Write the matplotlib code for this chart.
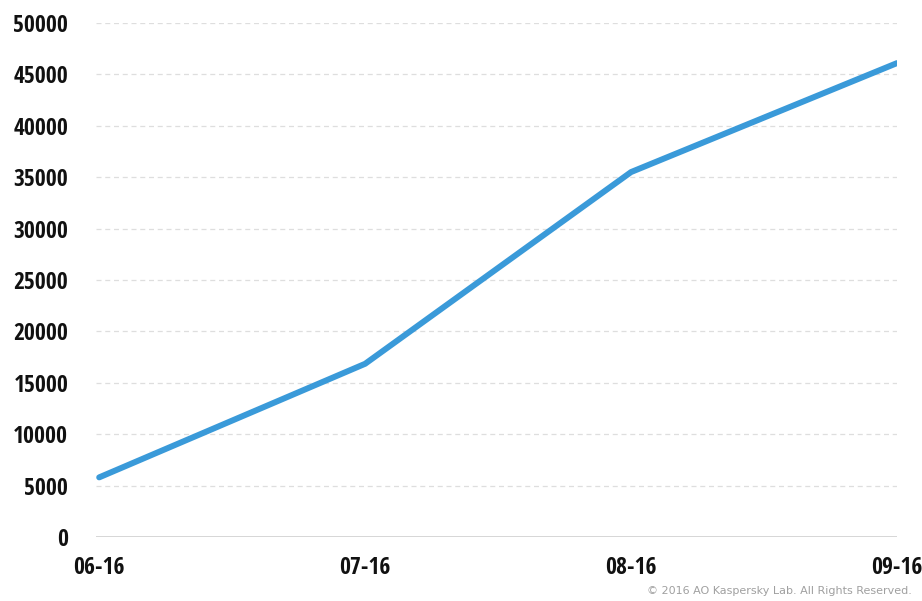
import matplotlib
matplotlib.use("Agg")
import matplotlib.pyplot as plt
from matplotlib import font_manager

months = ["06-16", "07-16", "08-16", "09-16"]
values = [5800, 16850, 35500, 46100]
y_ticks = [0, 5000, 10000, 15000, 20000, 25000, 30000, 35000, 40000, 45000, 50000]

# narrow bold face for the tick labels (Open Sans Condensed), else a smaller DejaVu
label_font = font_manager.FontProperties(family="DejaVu Sans", weight="bold", size=12.5)
for fam, stretch in [("Open Sans Condensed", "normal"), ("Open Sans", "condensed"),
                     ("Noto Sans Condensed", "normal"), ("Noto Sans", "condensed")]:
    fp = font_manager.FontProperties(family=fam, stretch=stretch, weight="bold", size=17)
    try:
        path = font_manager.findfont(fp, fallback_to_default=False)
    except Exception:
        continue
    if "Cond" in path:
        label_font = fp
        break

fig = plt.figure(figsize=(9.22, 6.01), dpi=100)
ax = fig.add_axes([96 / 922, 1 - 537 / 601, (897 - 96) / 922, (537 - 23) / 601])

x = list(range(len(months)))
ax.plot(x, values, color="#3a9ad9", linewidth=4.3, solid_capstyle="round", zorder=3)

ax.set_ylim(0, 50000)
ax.set_xlim(-0.012, 3.0)
ax.set_yticks(y_ticks)
ax.set_yticklabels([str(v) for v in y_ticks])
ax.set_xticks(x)
ax.set_xticklabels(months)

for v in y_ticks[1:]:
    ax.axhline(v, color="#dedede", linewidth=0.9, linestyle=(0, (4, 3)), zorder=1)
ax.axhline(0, color="#d0d0d0", linewidth=1.2, zorder=1)

for s in ax.spines.values():
    s.set_visible(False)
ax.tick_params(length=0)
ax.tick_params(axis="y", pad=20)
ax.tick_params(axis="x", pad=14)
for lab in ax.get_xticklabels() + ax.get_yticklabels():
    lab.set_fontproperties(label_font)
    lab.set_color("#111111")

fig.text(912 / 922, 1 - 591 / 601, "\u00a9 2016 AO Kaspersky Lab. All Rights Reserved.",
         ha="right", va="center", fontsize=8, color="#a0a0a0", family=["DejaVu Sans"])

fig.savefig("out.png", dpi=100)
